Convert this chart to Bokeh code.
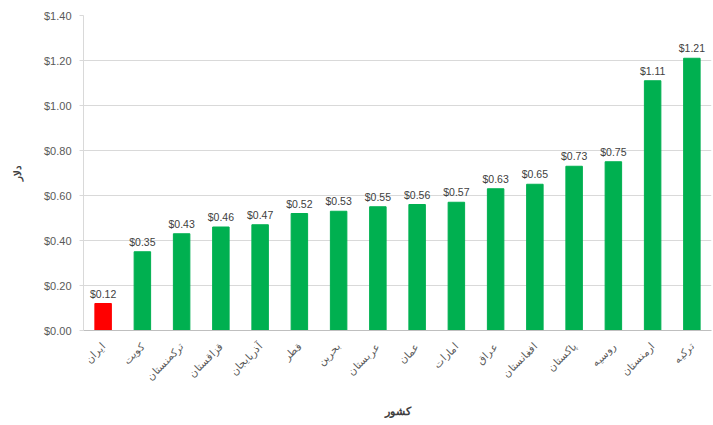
from bokeh.plotting import figure
from bokeh.models import ColumnDataSource, FactorRange, Range1d, NumeralTickFormatter, FixedTicker, LabelSet
from bokeh.core.properties import value
from bokeh.embed import file_html
from bokeh.resources import INLINE
import math

countries = ["ایران", "کویت", "ترکمنستان", "قزاقستان", "آذربایجان", "قطر", "بحرین", "عربستان",
             "عمان", "امارات", "عراق", "افغانستان", "پاکستان", "روسیه", "ارمنستان", "ترکیه"]
prices = [0.12, 0.35, 0.43, 0.46, 0.47, 0.52, 0.53, 0.55, 0.56, 0.57, 0.63, 0.65, 0.73, 0.75, 1.11, 1.21]
y_ticks = [0.0, 0.2, 0.4, 0.6, 0.8, 1.0, 1.2, 1.4]

colors = ["#ff0000" if c == "ایران" else "#00b050" for c in countries]
labels = ["$%.2f" % v for v in prices]

src = ColumnDataSource(dict(x=countries, top=prices, color=colors, label=labels))

p = figure(x_range=FactorRange(*countries), y_range=Range1d(0, 1.4),
           width=713, height=425, output_backend="svg", toolbar_location=None,
           min_border_left=83, min_border_right=2, min_border_top=15, min_border_bottom=95)
p.outline_line_color = None

p.vbar(x="x", top="top", width=0.42, color="color", source=src)

lbl = LabelSet(x="x", y="top", text="label", source=src, y_offset=4, text_align="center",
               text_baseline="bottom", text_font_size="10.5px", text_color="#404040",
               text_font=value("Liberation Sans"))
p.add_layout(lbl)

p.yaxis.ticker = FixedTicker(ticks=y_ticks)
p.yaxis.formatter = NumeralTickFormatter(format="$0.00")
p.yaxis.axis_label = "دلار"
p.yaxis.axis_label_text_font_size = "10px"
p.yaxis.axis_label_text_font_style = "bold"
p.yaxis.axis_label_text_color = "#404040"
p.yaxis.axis_label_standoff = 18
p.yaxis.major_label_text_font_size = "11px"
p.yaxis.major_label_text_color = "#595959"
p.yaxis.major_label_text_font = "Liberation Sans"
p.yaxis.major_label_standoff = 8
p.yaxis.axis_line_color = "#d9d9d9"
p.yaxis.major_tick_line_color = "#d9d9d9"
p.yaxis.major_tick_in = 0
p.yaxis.major_tick_out = 4
p.yaxis.minor_tick_line_color = None

p.xaxis.axis_label = "کشور"
p.xaxis.axis_label_text_font_size = "11px"
p.xaxis.axis_label_text_font_style = "bold"
p.xaxis.axis_label_text_color = "#404040"
p.xaxis.axis_label_standoff = 16
p.xaxis.major_label_orientation = math.pi / 4
p.xaxis.major_label_text_font_size = "10.5px"
p.xaxis.major_label_text_color = "#595959"
p.xaxis.axis_line_color = "#bfbfbf"
p.xaxis.major_tick_line_color = None
p.xaxis.major_label_standoff = 8

p.xgrid.grid_line_color = None
p.ygrid.grid_line_color = "#d9d9d9"

open("out.html", "w").write(file_html(p, INLINE))
